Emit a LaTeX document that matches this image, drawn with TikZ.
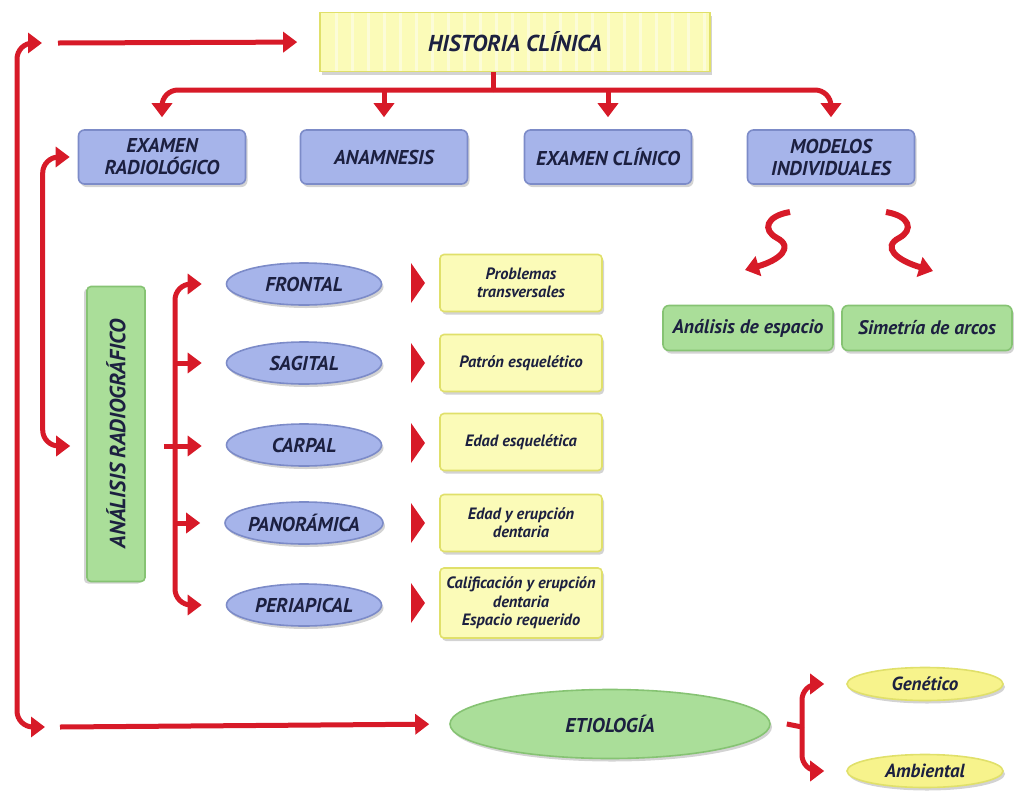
\documentclass[tikz,border=0pt]{standalone}
\usepackage{fontspec}
\setmainfont{PT Sans}
\usetikzlibrary{arrows.meta,shapes.geometric,shapes.symbols,shadows}

\definecolor{flecha}{HTML}{D71A28}
\definecolor{azul}{HTML}{A6B4EA}
\definecolor{azulb}{HTML}{7C8BC8}
\definecolor{verde}{HTML}{AADE99}
\definecolor{verdeb}{HTML}{86C373}
\definecolor{amar}{HTML}{FBFBB8}
\definecolor{amarb}{HTML}{E0E06A}
\definecolor{amarf}{HTML}{F7F38C}
\definecolor{tinta}{HTML}{1C2040}

\tikzset{
  sombra/.style={drop shadow={opacity=0.35,shadow xshift=1pt,shadow yshift=-1.5pt}},
  txt/.style={font=\bfseries\itshape\fontsize{#1}{#1}\selectfont, text=tinta, align=center},
  caja/.style={rectangle, rounded corners=3pt, draw=azulb, fill=azul, line width=0.8pt,
    minimum width=83.5pt, minimum height=27pt, inner sep=1pt, txt=10, sombra},
  elipse/.style={ellipse, draw=azulb, fill=azul, line width=0.8pt, inner sep=0pt,
    minimum width=77.5pt, minimum height=21pt, txt=10, sombra},
  nota/.style={rectangle, rounded corners=2pt, draw=amarb, fill=amar, line width=0.8pt,
    minimum width=81pt, minimum height=28.5pt, inner sep=0.5pt, txt=8.2, sombra},
  verdecaja/.style={rectangle, rounded corners=3pt, draw=verdeb, fill=verde, line width=0.8pt,
    minimum width=85pt, minimum height=22.5pt, inner sep=1pt, txt=9.8, sombra},
  origen/.style={ellipse, draw=amarb, fill=amarf, line width=0.8pt, minimum width=78pt,
    minimum height=16.5pt, inner sep=0pt, txt=9.5, sombra},
  bloque/.style={signal, signal to=east, signal pointer angle=110, fill=flecha,
    minimum width=7pt, minimum height=20pt, inner sep=0pt},
  linea/.style={draw=flecha, line width=2.5pt},
  flecha/.style={linea, -{Triangle[length=7pt,width=10pt]}},
  doble/.style={linea, {Triangle[length=7pt,width=10pt]}-{Triangle[length=7pt,width=10pt]}}
}

\begin{document}
\begin{tikzpicture}[x=0.5pt,y=-0.5pt]
    \useasboundingbox (0,0) rectangle (1014,794);

    \node[rectangle, draw=amarb, fill=amar, line width=0.8pt, minimum width=195pt,
      minimum height=29.5pt, txt=11.5, sombra,
      path picture={\foreach \i in {1,...,24}
        \draw[white,opacity=0.45,line width=1.5pt]
          ([xshift=\i*8pt]path picture bounding box.south west) --
          ([xshift=\i*8pt]path picture bounding box.north west);}]
      (hc) at (515,42) {HISTORIA CLÍNICA};

    \node[caja] (er) at (162,157) {EXAMEN\\[1pt]RADIOLÓGICO};
    \node[caja] (an) at (384,157) {ANAMNESIS};
    \node[caja] (ec) at (608,157) {EXAMEN CLÍNICO};
    \node[caja] (mi) at (831,157) {MODELOS\\[1pt]INDIVIDUALES};

    \node[rectangle, rounded corners=2pt, draw=verdeb, fill=verde, line width=0.8pt,
      minimum width=147.5pt, minimum height=29pt, rotate=90, txt=11,
      drop shadow={opacity=0.35,shadow xshift=-1.5pt,shadow yshift=-1pt}]
      (ar) at (116,434) {ANÁLISIS RADIOGRÁFICO};

    \node[elipse] (fr) at (304,284) {FRONTAL};
    \node[elipse] (sg) at (304,363) {SAGITAL};
    \node[elipse] (ca) at (304,445) {CARPAL};
    \node[elipse] (pa) at (304,523) {PANORÁMICA};
    \node[elipse] (pe) at (304,605) {PERIAPICAL};

    \node[nota] (n1) at (521,283) {Problemas\\[1pt]transversales};
    \node[nota] (n2) at (521,363) {Patrón esquelético};
    \node[nota] (n3) at (521,442) {Edad esquelética};
    \node[nota] (n4) at (521,523) {Edad y erupción\\[1pt]dentaria};
    \node[nota, minimum height=35pt] (n5) at (521,603)
      {Calificación y erupción\\[1pt]dentaria\\[1pt]Espacio requerido};

    \foreach \y/\n in {283/1,363/2,443/3,523/4,603/5}
      \node[bloque] (b\n) at (411,\y) {};

    \node[verdecaja] (ae) at (748,328) {Análisis de espacio};
    \node[verdecaja] (sa) at (927,328) {Simetría de arcos};

    \node[ellipse, draw=verdeb, fill=verde, line width=0.8pt, minimum width=160pt,
      minimum height=34.5pt, txt=10, sombra] (et) at (610,724) {ETIOLOGÍA};
    \node[origen] (ge) at (925,684) {Genético};
    \node[origen] (am) at (925,771) {Ambiental};

    % historia clinica -> examenes
    \coordinate (hub) at (493,90);
    \draw[linea] (hc.south -| hub) -- (hub);
    \draw[flecha, rounded corners=8pt, shorten >=6pt] (hub) -| (er.north);
    \draw[flecha, rounded corners=8pt, shorten >=6pt] (hub) -| (mi.north);
    \draw[flecha, shorten >=6pt] (hub -| an.north) -- (an.north);
    \draw[flecha, shorten >=6pt] (hub -| ec.north) -- (ec.north);

    % lazo exterior
    \coordinate (lt) at (42,43);
    \coordinate (lb) at (45,727);
    \draw[doble, rounded corners=8pt] (lt) -- (17,43) -- (17,727) -- (lb);
    \draw[flecha, shorten >=11pt] (58,43) -- (hc.west);
    \draw[flecha, shorten >=10pt] (60,727) -- (et.west);

    % examen radiologico <-> analisis
    \coordinate (br) at (175,446);
    \draw[doble, rounded corners=8pt, shorten <=4pt, shorten >=8pt]
      (er.west) -- ++(-35,0) |- (ar.north |- br);

    % analisis -> proyecciones
    \draw[linea] ([xshift=9pt]ar.south |- br) -- (br);
    \draw[flecha, rounded corners=8pt, shorten >=12pt] (br) |- (fr.west);
    \draw[flecha, rounded corners=8pt, shorten >=12pt] (br) |- (pe.west);
    \draw[flecha, shorten >=12pt] (br |- sg.west) -- (sg.west);
    \draw[flecha, shorten >=12pt] (br) -- (br -| ca.west);
    \draw[flecha, shorten >=12pt] (br |- pa.west) -- (pa.west);

    % modelos -> analisis de espacio / simetria
    \draw[flecha, line width=3pt] (790,212) .. controls (766,216) and (762,230) .. (777,238)
      .. controls (794,247) and (780,260) .. (745,270);
    \draw[flecha, line width=3pt] (886,212) .. controls (910,216) and (914,230) .. (899,238)
      .. controls (882,247) and (896,260) .. (933,271);

    % etiologia -> genetico / ambiental
    \coordinate (eb) at (802,727);
    \draw[linea] ([xshift=8pt]et.east) -- (eb);
    \draw[flecha, rounded corners=8pt, shorten >=11pt] (eb) |- (ge.west);
    \draw[flecha, rounded corners=8pt, shorten >=11pt] (eb) |- (am.west);
\end{tikzpicture}
\end{document}
